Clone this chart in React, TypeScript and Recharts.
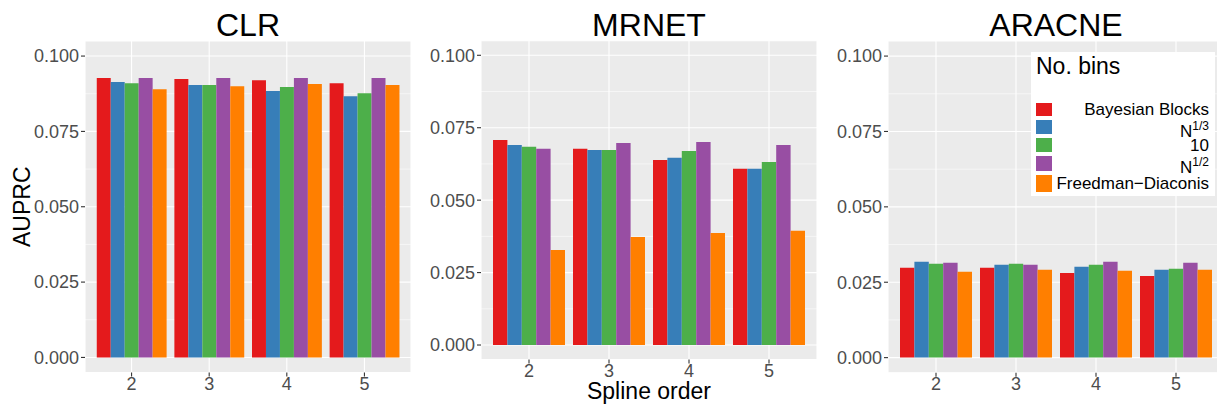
import { BarChart, Bar, XAxis, YAxis, CartesianGrid, Legend } from 'recharts';

const splineOrders = ['2', '3', '4', '5'];

const binKeys = ['bayes', 'cubeRoot', 'ten', 'sqrt', 'fd'];
const binLabels = ['Bayesian Blocks', 'N^1/3', '10', 'N^1/2', 'Freedman\u2212Diaconis'];
const binColors = ['#E41A1C', '#377EB8', '#4DAF4A', '#984EA3', '#FF7F00'];

// AUPRC for spline order 2..5, one array per binning rule
const clrBayes = [0.0927, 0.0924, 0.092, 0.091];
const clrCubeRoot = [0.0914, 0.0904, 0.0884, 0.0867];
const clrTen = [0.091, 0.0904, 0.0897, 0.0877];
const clrSqrt = [0.0927, 0.0927, 0.0927, 0.0927];
const clrFd = [0.089, 0.09, 0.0907, 0.0904];

const mrnetBayes = [0.0708, 0.0677, 0.0639, 0.0608];
const mrnetCubeRoot = [0.069, 0.0673, 0.0646, 0.0608];
const mrnetTen = [0.0684, 0.0673, 0.067, 0.0632];
const mrnetSqrt = [0.0677, 0.0697, 0.0701, 0.069];
const mrnetFd = [0.0328, 0.0373, 0.0387, 0.0394];

const aracneBayes = [0.0298, 0.0298, 0.0281, 0.0271];
const aracneCubeRoot = [0.0318, 0.0308, 0.0301, 0.0291];
const aracneTen = [0.0311, 0.0311, 0.0308, 0.0295];
const aracneSqrt = [0.0315, 0.0308, 0.0318, 0.0315];
const aracneFd = [0.0285, 0.0291, 0.0288, 0.0291];

const yTicks = [0, 0.025, 0.05, 0.075, 0.1];
const yMinorTicks = [0.0125, 0.0375, 0.0625, 0.0875];

const FONT = '"Liberation Sans", Arial, Helvetica, sans-serif';
const TICK = { fontSize: 18, fill: '#4D4D4D', fontFamily: FONT };

const toRows = (series: number[][]) =>
  splineOrders.map((order, i) => {
    const row: Record<string, string | number> = { order };
    binKeys.forEach((k, j) => {
      row[k] = series[j][i];
    });
    return row;
  });

const clrData = toRows([clrBayes, clrCubeRoot, clrTen, clrSqrt, clrFd]);
const mrnetData = toRows([mrnetBayes, mrnetCubeRoot, mrnetTen, mrnetSqrt, mrnetFd]);
const aracneData = toRows([aracneBayes, aracneCubeRoot, aracneTen, aracneSqrt, aracneFd]);

const labelNode = (key: string, label: string) => {
  if (key === 'cubeRoot' || key === 'sqrt') {
    const exp = label.split('^')[1];
    return (
      <span style={{ position: 'relative', top: 4, lineHeight: '17px' }}>
        N<span style={{ fontSize: 12, lineHeight: '12px', position: 'relative', top: -7 }}>{exp}</span>
      </span>
    );
  }
  return label;
};

const rowHeights = [17, 18, 18, 19, 21];

const BinsLegend = (props: any) => {
  const items = [...(props.payload || [])].sort(
    (a: any, b: any) => binKeys.indexOf(a.dataKey) - binKeys.indexOf(b.dataKey)
  );
  return (
    <div style={{ background: '#fff', width: 184, height: 144, fontFamily: FONT, boxSizing: 'border-box', padding: '0 6px 0 5px' }}>
      <div style={{ fontSize: 23, lineHeight: '23px', paddingTop: 3, height: 46 }}>No. bins</div>
      {items.map((it: any, i: number) => (
        <div key={it.dataKey} style={{ display: 'flex', alignItems: 'center', height: rowHeights[i] }}>
          <div style={{ width: 16, height: rowHeights[i] - 4, background: it.color, flex: 'none' }} />
          <div style={{ flex: 1, textAlign: 'right', fontSize: 17, lineHeight: '17px', color: '#000', whiteSpace: 'nowrap' }}>
            {labelNode(it.dataKey, binLabels[binKeys.indexOf(it.dataKey)])}
          </div>
        </div>
      ))}
    </div>
  );
};

const YTitle = (props: any) => {
  const { x, y, height } = props.viewBox;
  const cx = x + 30;
  const cy = y + height / 2;
  return (
    <text x={cx} y={cy} transform={`rotate(-90 ${cx} ${cy})`} textAnchor="middle" fontSize={23} fill="#000" fontFamily={FONT}>
      AUPRC
    </text>
  );
};

interface PanelProps {
  title: string;
  data: Record<string, string | number>[];
  left: number;
  width: number;
  yAxisWidth: number;
  xAxisHeight: number;
  top?: number;
  xTitle?: boolean;
  yTitle?: boolean;
  legend?: boolean;
}

const Panel = ({ title, data, left, width, yAxisWidth, xAxisHeight, top = 41, xTitle, yTitle, legend }: PanelProps) => {
  const plotWidth = width - yAxisWidth;
  const band = plotWidth / 4.2;
  return (
    <div style={{ position: 'absolute', left, top: 0, width, height: 408 }}>
      <BarChart
        width={width}
        height={408}
        data={data}
        margin={{ top, right: 0, bottom: 0, left: 0 }}
        barGap={0}
        barSize={band * 0.18}
      >
        <CartesianGrid fill="#EBEBEB" stroke="#FFFFFF" strokeWidth={1.1} />
        <CartesianGrid vertical={false} horizontalValues={yMinorTicks} stroke="#FFFFFF" strokeWidth={0.55} />
        <XAxis
          dataKey="order"
          padding={{ left: band * 0.1, right: band * 0.1 }}
          axisLine={false}
          tickLine={{ stroke: '#333333', strokeWidth: 1.1 }}
          tickSize={4}
          tickMargin={1}
          height={xAxisHeight}
          tick={TICK}
          label={
            xTitle
              ? { value: 'Spline order', position: 'insideBottom', offset: 9, fontSize: 23, fill: '#000', fontFamily: FONT }
              : undefined
          }
        />
        <YAxis
          type="number"
          domain={[-0.005, 0.105]}
          ticks={yTicks}
          interval={0}
          allowDataOverflow
          tickFormatter={(v: number) => v.toFixed(3)}
          axisLine={false}
          tickLine={{ stroke: '#333333', strokeWidth: 1.1 }}
          tickSize={4}
          tickMargin={2}
          width={yAxisWidth}
          tick={TICK}
          label={yTitle ? { content: YTitle } : undefined}
        />
        {binKeys.map((k, j) => (
          <Bar key={k} dataKey={k} name={binLabels[j]} fill={binColors[j]} isAnimationActive={false} />
        ))}
        {legend && (
          <Legend
            layout="vertical"
            align="center"
            verticalAlign="middle"
            content={BinsLegend}
            wrapperStyle={{ position: 'absolute', left: 1031 - left, top: 52, right: 'auto', bottom: 'auto', width: 184, height: 144 }}
          />
        )}
      </BarChart>
      <div
        style={{
          position: 'absolute',
          left: yAxisWidth,
          top: 9,
          width: plotWidth,
          textAlign: 'center',
          fontSize: 32,
          lineHeight: '32px',
          fontFamily: FONT,
          color: '#000',
        }}
      >
        {title}
      </div>
    </div>
  );
};

const App = () => (
  <div style={{ position: 'absolute', left: 0, top: 0, width: 1217, height: 408, overflow: 'hidden', background: '#fff', fontFamily: FONT }}>
    <Panel title="CLR" data={clrData} left={0} width={411} yAxisWidth={85} xAxisHeight={35.5} yTitle />
    <Panel title="MRNET" data={mrnetData} left={411} width={406} yAxisWidth={70} xAxisHeight={48.5} top={40.8} xTitle />
    <Panel title="ARACNE" data={aracneData} left={817} width={407} yAxisWidth={71} xAxisHeight={35.3} legend />
  </div>
);

export default App;
